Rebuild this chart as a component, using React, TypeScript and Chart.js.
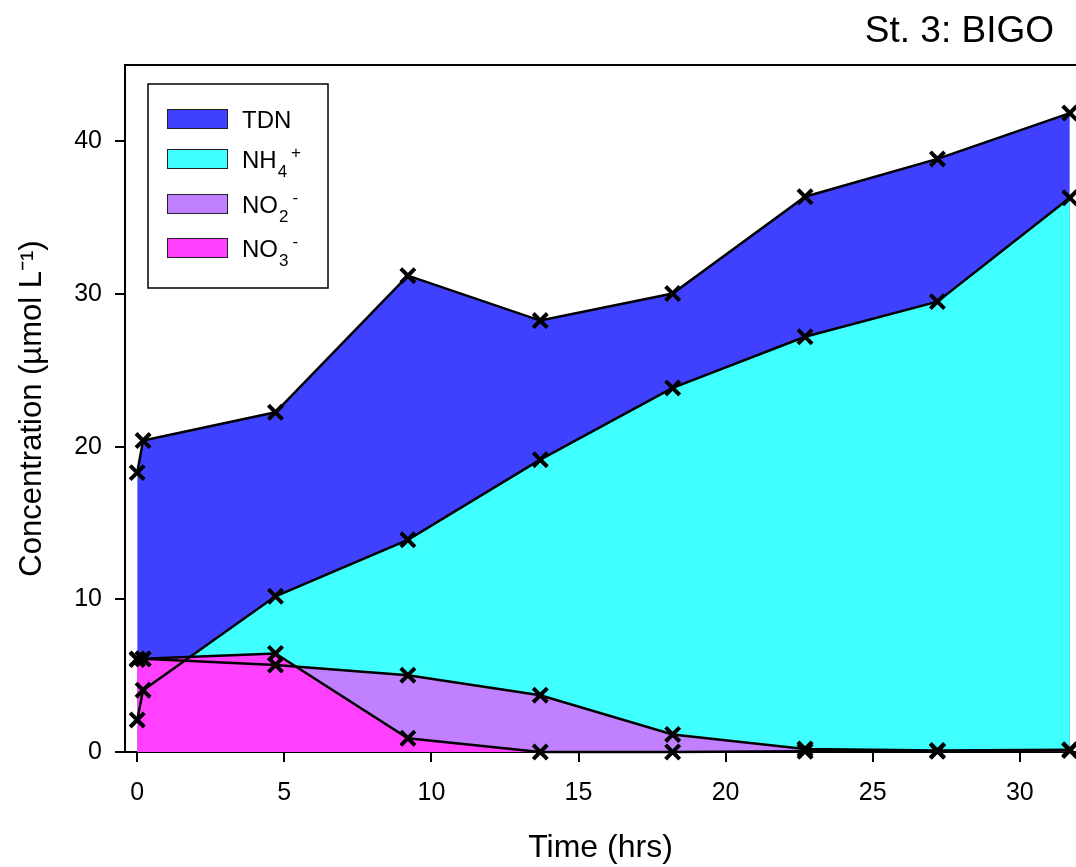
import React, { useEffect, useRef } from "react";
import { Chart, registerables } from "chart.js";

Chart.register(...registerables);

// ---- data ----
const timeHrs = [0, 0.2, 4.7, 9.2, 13.7, 18.2, 22.7, 27.2, 31.7];
const tdnValues = [18.3, 20.4, 22.25, 31.2, 28.26, 30.03, 36.37, 38.85, 41.85];
const nh4Values = [2.1, 4.05, 10.2, 13.9, 19.15, 23.85, 27.2, 29.5, 36.3];
const no2Values = [6.05, 6.1, 5.7, 5.03, 3.72, 1.15, 0.2, 0.1, 0.15];
const no3Values = [6.1, 6.1, 6.45, 0.9, 0.0, 0.0, 0.05, 0.05, 0.1];

const xTickValues = [0, 5, 10, 15, 20, 25, 30];
const yTickValues = [0, 10, 20, 30, 40];

const chartTitle = "St. 3: BIGO";
const xAxisTitle = "Time (hrs)";
const yAxisTitle = "Concentration (\u00B5mol L\u207B\u00B9)";

const seriesNames = ["TDN", "NH4+", "NO2-", "NO3-"];
const seriesColors = ["#4040FF", "#40FFFF", "#C080FF", "#FF40FF"];

type Part = { text: string; sub?: boolean; sup?: boolean };
const legendLabels: Part[][] = [
  [{ text: "TDN" }],
  [{ text: "NH" }, { text: "4", sub: true }, { text: "+", sup: true }],
  [{ text: "NO" }, { text: "2", sub: true }, { text: "-", sup: true }],
  [{ text: "NO" }, { text: "3", sub: true }, { text: "-", sup: true }],
];

const FONT = '"Liberation Sans", Arial, Helvetica, sans-serif';

const overlayPlugin = {
  id: "overlay",
  afterDraw(chart: any) {
    const ctx: CanvasRenderingContext2D = chart.ctx;
    const a = chart.chartArea;
    ctx.save();
    // top frame line
    ctx.strokeStyle = "#000";
    ctx.lineWidth = 2;
    ctx.beginPath();
    ctx.moveTo(a.left - 1, a.top);
    ctx.lineTo(a.right, a.top);
    ctx.stroke();

    // title
    ctx.fillStyle = "#000";
    ctx.font = `37px ${FONT}`;
    ctx.textAlign = "right";
    ctx.textBaseline = "alphabetic";
    ctx.fillText(chartTitle, a.right - 22, 42);

    // legend
    const bx = a.left + 23;
    const by = a.top + 19;
    ctx.lineWidth = 1.5;
    ctx.strokeStyle = "#000";
    ctx.strokeRect(bx, by, 180, 204);
    const rowTops = [25, 65, 110, 154];
    legendLabels.forEach((parts, i) => {
      const sy = by + rowTops[i];
      ctx.fillStyle = seriesColors[i];
      ctx.fillRect(bx + 19, sy, 61, 20);
      ctx.lineWidth = 1;
      ctx.strokeStyle = "#222";
      ctx.strokeRect(bx + 19.5, sy + 0.5, 60, 19);
      let x = bx + 94;
      const base = sy + 19;
      ctx.fillStyle = "#000";
      ctx.textAlign = "left";
      ctx.textBaseline = "alphabetic";
      parts.forEach((p) => {
        if (p.sub) {
          ctx.font = `17px ${FONT}`;
          ctx.fillText(p.text, x + 1, base + 9);
          x += ctx.measureText(p.text).width + 5;
        } else if (p.sup) {
          ctx.font = `17px ${FONT}`;
          ctx.fillText(p.text, x, base - 10);
          x += ctx.measureText(p.text).width;
        } else {
          ctx.font = `24px ${FONT}`;
          ctx.fillText(p.text, x, base);
          x += ctx.measureText(p.text).width;
        }
      });
    });
    ctx.restore();
  },
};

function makeDataset(label: string, values: number[], color: string) {
  return {
    label,
    data: timeHrs.map((t, i) => ({ x: t, y: values[i] })),
    backgroundColor: color,
    borderColor: "#000",
    borderWidth: 2.5,
    fill: "origin",
    tension: 0,
    pointStyle: "crossRot",
    pointRadius: 10,
    pointHoverRadius: 10,
    pointBorderWidth: 4,
    pointBorderColor: "#000",
    clip: false,
  };
}

export default function App() {
  const canvasRef = useRef<HTMLCanvasElement | null>(null);

  useEffect(() => {
    if (!canvasRef.current) return;
    const chart = new Chart(canvasRef.current, {
      type: "line",
      data: {
        datasets: [
          makeDataset(seriesNames[3], no3Values, seriesColors[3]),
          makeDataset(seriesNames[2], no2Values, seriesColors[2]),
          makeDataset(seriesNames[1], nh4Values, seriesColors[1]),
          makeDataset(seriesNames[0], tdnValues, seriesColors[0]),
        ] as any,
      },
      options: {
        responsive: false,
        animation: false,
        devicePixelRatio: 1,
        layout: { autoPadding: false, padding: { top: 65, left: 0, right: 0, bottom: 0 } },
        plugins: {
          legend: { display: false },
          tooltip: { enabled: false },
          filler: { drawTime: "beforeDatasetsDraw" } as any,
        },
        scales: {
          x: {
            type: "linear",
            min: -0.415,
            max: 31.91,
            afterFit: (s: any) => {
              s.height = 115;
              s.paddingLeft = 0;
              s.paddingRight = 0;
            },
            afterBuildTicks: (s: any) => {
              s.ticks = xTickValues.map((v) => ({ value: v }));
            },
            border: { display: true, color: "#000", width: 2 },
            grid: {
              display: true,
              drawOnChartArea: false,
              drawTicks: true,
              tickLength: 10,
              color: "#000",
              lineWidth: 2,
            },
            ticks: {
              font: { family: FONT, size: 25 },
              color: "#000",
              padding: 16,
              maxRotation: 0,
              autoSkip: false,
            },
            title: {
              display: true,
              text: xAxisTitle,
              font: { family: FONT, size: 32 },
              color: "#000",
              padding: { top: 0, bottom: 0 },
            },
          },
          y: {
            type: "linear",
            min: 0,
            max: 45,
            afterFit: (s: any) => {
              s.width = 125;
              s.paddingTop = 0;
              s.paddingBottom = 0;
            },
            afterBuildTicks: (s: any) => {
              s.ticks = yTickValues.map((v) => ({ value: v }));
            },
            border: { display: true, color: "#000", width: 2 },
            grid: {
              display: true,
              drawOnChartArea: false,
              drawTicks: true,
              tickLength: 10,
              color: "#000",
              lineWidth: 2,
            },
            ticks: {
              font: { family: FONT, size: 25 },
              color: "#000",
              padding: 13,
              autoSkip: false,
            },
            title: {
              display: true,
              text: yAxisTitle,
              font: { family: FONT, size: 31 },
              color: "#000",
              padding: { top: 14, bottom: 0 },
            },
          },
        },
      },
      plugins: [overlayPlugin],
    });
    return () => chart.destroy();
  }, []);

  return (
    <div
      style={{
        position: "fixed",
        left: 0,
        top: 0,
        width: 1076,
        height: 867,
        background: "#fff",
        overflow: "hidden",
      }}
    >
      <canvas ref={canvasRef} width={1076} height={867} />
    </div>
  );
}
